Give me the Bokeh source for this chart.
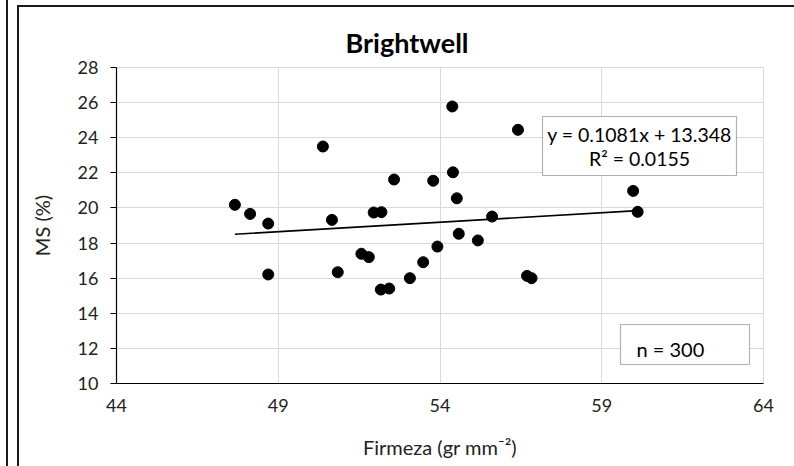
from bokeh.plotting import figure
from bokeh.models import Range1d, FixedTicker, Label, BoxAnnotation
from bokeh.embed import file_html
from bokeh.resources import INLINE

# ---- data ----
firmeza = [47.66, 48.13, 48.69, 48.69, 50.38, 50.66, 50.84, 51.57, 51.80, 51.95,
           52.19, 52.17, 52.43, 52.58, 53.07, 53.48, 53.79, 53.92, 54.38, 54.40,
           54.52, 54.58, 55.17, 55.61, 56.41, 56.69, 56.83, 59.97, 60.11]
ms = [20.18, 19.66, 19.11, 16.21, 23.50, 19.32, 16.34, 17.39, 17.20, 19.74,
      19.76, 15.35, 15.41, 21.62, 16.00, 16.91, 21.55, 17.80, 25.78, 22.03,
      20.55, 18.53, 18.15, 19.51, 24.45, 16.13, 16.00, 20.97, 19.78]
slope = 0.1081
intercept = 13.348
r2 = 0.0155
n_label = "n = 300"
x_ticks = [44, 49, 54, 59, 64]
y_ticks = [10, 12, 14, 16, 18, 20, 22, 24, 26, 28]
title_text = "Brightwell"
x_label = "Firmeza (gr mm\u207b\u00b2)"
y_label = "MS (%)"

# ---- layout geometry (pixels) ----
W, H = 794, 466
FL, FR, FT, FB = 116, 763, 67, 383
X0, X1, Y0, Y1 = 44, 64, 10, 28
FONT = "Lato"


def px2x(px):
    return X0 + (px - FL) * (X1 - X0) / (FR - FL)


def px2y(py):
    return Y0 + (FB - py) * (Y1 - Y0) / (FB - FT)


p = figure(width=W, height=H, output_backend="svg", toolbar_location=None,
           x_range=Range1d(X0, X1), y_range=Range1d(Y0, Y1),
           min_border_left=FL, min_border_right=W - FR,
           min_border_top=FT, min_border_bottom=H - FB)
p.background_fill_color = "white"
p.border_fill_color = None
p.outline_line_color = "#d9d9d9"
# chart frame lines (neighbouring chart edge + this chart's border) drawn as page background
line = "linear-gradient(#1a1a1a,#1a1a1a)"
p.styles = {
    "background": (f"{line} 6px 0px/2px 100% no-repeat, "
                   f"{line} 17px 6px/2px 100% no-repeat, "
                   f"{line} 17px 5px/100% 2px no-repeat, white"),
}

# title
p.title.text = title_text
p.title.align = "left"
p.title.offset = 229
p.title.text_font = FONT
p.title.text_font_size = "27px"
p.title.text_font_style = "bold"
p.title.text_color = "black"
p.title.standoff = 17

p.xaxis.ticker = FixedTicker(ticks=x_ticks)
p.yaxis.ticker = FixedTicker(ticks=y_ticks)
p.xgrid.ticker = FixedTicker(ticks=x_ticks)
p.ygrid.ticker = FixedTicker(ticks=y_ticks)
p.grid.grid_line_color = "#d9d9d9"
p.grid.grid_line_width = 1

for ax in (p.xaxis, p.yaxis):
    ax.axis_line_color = "black"
    ax.axis_line_width = 1.2
    ax.minor_tick_line_color = None
    ax.major_label_text_font = FONT
    ax.major_label_text_font_size = "18px"
    ax.major_label_text_color = "#222222"
    ax.axis_label_text_font = FONT
    ax.axis_label_text_font_size = "20px"
    ax.axis_label_text_font_style = "normal"
    ax.axis_label_text_color = "#222222"

p.xaxis.major_tick_line_color = None
p.xaxis.major_tick_out = 0
p.xaxis.major_tick_in = 0
p.xaxis.major_label_standoff = 15
p.xaxis.axis_label = x_label
p.xaxis.axis_label_standoff = 20

p.yaxis.major_tick_line_color = "black"
p.yaxis.major_tick_out = 6
p.yaxis.major_tick_in = 0
p.yaxis.major_label_standoff = 12
p.yaxis.axis_label = y_label
p.yaxis.axis_label_standoff = 21

# trend line
tx = [min(firmeza), max(firmeza)]
ty = [slope * v + intercept for v in tx]
p.line(tx, ty, line_color="black", line_width=1.6)

# points
p.scatter(firmeza, ms, size=11, fill_color="black", line_color="black")

# equation box
p.add_layout(BoxAnnotation(left=px2x(542), right=px2x(736), top=px2y(116), bottom=px2y(175),
                           fill_color="white", fill_alpha=1, line_color="black", line_width=1.2))
p.add_layout(Label(x=px2x(639), y=px2y(134), text=f"y = {slope}x + {intercept}",
                   text_font=FONT, text_font_size="19.5px", text_align="center",
                   text_baseline="middle", text_color="black"))
p.add_layout(Label(x=px2x(639), y=px2y(158), text=f"R\u00b2 = {r2}",
                   text_font=FONT, text_font_size="19.5px", text_align="center",
                   text_baseline="middle", text_color="black"))

# n box
p.add_layout(BoxAnnotation(left=px2x(620), right=px2x(749), top=px2y(324), bottom=px2y(364),
                           fill_color="white", fill_alpha=1, line_color="black", line_width=1.2))
p.add_layout(Label(x=px2x(636), y=px2y(348), text=n_label, text_font=FONT,
                   text_font_size="20px", text_align="left", text_baseline="middle",
                   text_color="black"))

open("out.html", "w").write(file_html(p, INLINE))
